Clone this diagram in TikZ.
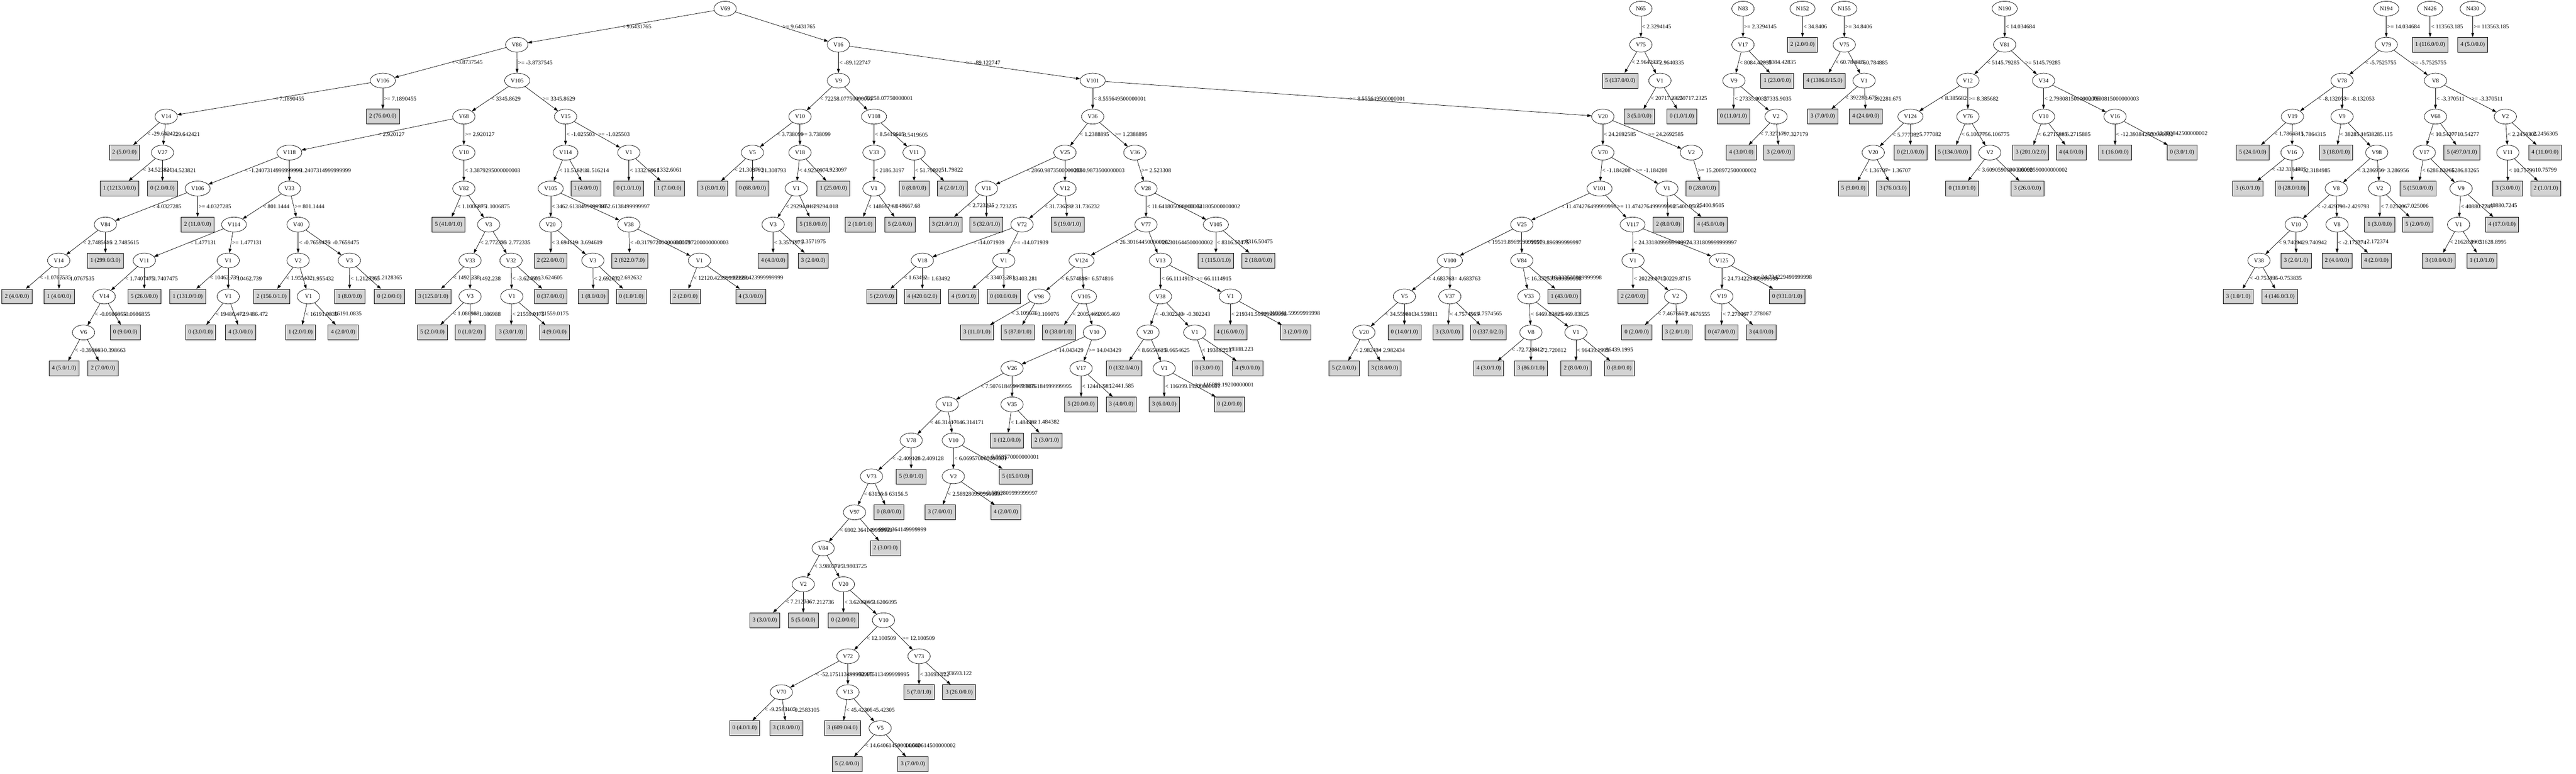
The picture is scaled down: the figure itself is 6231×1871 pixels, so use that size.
\documentclass[tikz,border=0pt]{standalone}
\usepackage{fontspec}
\setmainfont{Liberation Serif}
\usetikzlibrary{shapes.geometric,arrows.meta}
\definecolor{leafgray}{RGB}{211,211,211}
\begin{document}
\begin{tikzpicture}[x=1pt,y=-1pt,font=\fontsize{14pt}{17pt}\selectfont,
		split/.style={ellipse,draw,line width=0.9pt,minimum width=54pt,minimum height=36pt,inner xsep=6pt,inner ysep=0pt},
		leaf/.style={rectangle,draw,line width=0.9pt,fill=leafgray,minimum width=54pt,minimum height=36pt,inner xsep=7pt,inner ysep=0pt},
		edge/.style={line width=0.9pt,-{Triangle[length=10pt,width=7pt]}},
		lab/.style={midway,anchor=west,inner xsep=2pt,inner ysep=0pt}]
		\useasboundingbox (0,0) rectangle (6231,1871);
		\node[split] (v69) at (1754,21) {V69};
		\node[split] (v86) at (1250,108) {V86};
		\node[split] (v16) at (2028,108) {V16};
		\draw[edge] (v69) -- node[lab] {< 9.6431765} (v86);
		\draw[edge] (v69) -- node[lab] {>= 9.6431765} (v16);
		\node[split] (v106a) at (926,195) {V106};
		\node[split] (v105a) at (1251,195) {V105};
		\draw[edge] (v86) -- node[lab] {< -3.8737545} (v106a);
		\draw[edge] (v86) -- node[lab] {>= -3.8737545} (v105a);
		\node[split] (v14a) at (402,282) {V14};
		\node[leaf] (c1) at (926,282) {2 (76.0/0.0)};
		\draw[edge] (v106a) -- node[lab] {< 7.1890455} (v14a);
		\draw[edge] (v106a) -- node[lab] {>= 7.1890455} (c1);
		\node[leaf] (c2) at (301,369) {2 (5.0/0.0)};
		\node[split] (v27) at (393,369) {V27};
		\draw[edge] (v14a) -- node[lab] {< -29.642421} (c2);
		\draw[edge] (v14a) -- node[lab] {>= -29.642421} (v27);
		\node[leaf] (c3) at (289,456) {1 (1213.0/0.0)};
		\node[leaf] (c4) at (393,456) {0 (2.0/0.0)};
		\draw[edge] (v27) -- node[lab] {< 34.523821} (c3);
		\draw[edge] (v27) -- node[lab] {>= 34.523821} (c4);
		\node[split] (v68a) at (1122,282) {V68};
		\node[split] (v15) at (1368,282) {V15};
		\draw[edge] (v105a) -- node[lab] {< 3345.8629} (v68a);
		\draw[edge] (v105a) -- node[lab] {>= 3345.8629} (v15);
		\node[split] (v118) at (700,369) {V118};
		\node[split] (v10a) at (1122,369) {V10};
		\draw[edge] (v68a) -- node[lab] {< 2.920127} (v118);
		\draw[edge] (v68a) -- node[lab] {>= 2.920127} (v10a);
		\node[split] (v106b) at (478,456) {V106};
		\node[split] (v33a) at (700,456) {V33};
		\draw[edge] (v118) -- node[lab] {< -1.2407314999999999} (v106b);
		\draw[edge] (v118) -- node[lab] {>= -1.2407314999999999} (v33a);
		\node[split] (v84a) at (255,543) {V84};
		\node[leaf] (c5) at (478,543) {2 (11.0/0.0)};
		\draw[edge] (v106b) -- node[lab] {< 4.0327285} (v84a);
		\draw[edge] (v106b) -- node[lab] {>= 4.0327285} (c5);
		\node[split] (v14b) at (142,630) {V14};
		\node[leaf] (c6) at (255,630) {1 (299.0/3.0)};
		\draw[edge] (v84a) -- node[lab] {< 2.7485615} (v14b);
		\draw[edge] (v84a) -- node[lab] {>= 2.7485615} (c6);
		\node[leaf] (c7) at (41,717) {2 (4.0/0.0)};
		\node[leaf] (c8) at (143,717) {1 (4.0/0.0)};
		\draw[edge] (v14b) -- node[lab] {< -1.0767535} (c7);
		\draw[edge] (v14b) -- node[lab] {>= -1.0767535} (c8);
		\node[split] (v114a) at (566,543) {V114};
		\node[split] (v40) at (721,543) {V40};
		\draw[edge] (v33a) -- node[lab] {< 801.1444} (v114a);
		\draw[edge] (v33a) -- node[lab] {>= 801.1444} (v40);
		\node[split] (v11a) at (349,630) {V11};
		\node[split] (v1a) at (552,630) {V1};
		\draw[edge] (v114a) -- node[lab] {< 1.477131} (v11a);
		\draw[edge] (v114a) -- node[lab] {>= 1.477131} (v1a);
		\node[split] (v14c) at (252,717) {V14};
		\node[leaf] (c9) at (349,717) {5 (26.0/0.0)};
		\draw[edge] (v11a) -- node[lab] {< 1.7407475} (v14c);
		\draw[edge] (v11a) -- node[lab] {>= 1.7407475} (c9);
		\node[split] (v6) at (202,804) {V6};
		\node[leaf] (c10) at (303,804) {0 (9.0/0.0)};
		\draw[edge] (v14c) -- node[lab] {< -0.0986855} (v6);
		\draw[edge] (v14c) -- node[lab] {>= -0.0986855} (c10);
		\node[leaf] (c11) at (155,891) {4 (5.0/1.0)};
		\node[leaf] (c12) at (249,891) {2 (7.0/0.0)};
		\draw[edge] (v6) -- node[lab] {< -0.398663} (c11);
		\draw[edge] (v6) -- node[lab] {>= -0.398663} (c12);
		\node[leaf] (c13) at (454,717) {1 (131.0/0.0)};
		\node[split] (v1b) at (552,717) {V1};
		\draw[edge] (v1a) -- node[lab] {< 10462.739} (c13);
		\draw[edge] (v1a) -- node[lab] {>= 10462.739} (v1b);
		\node[leaf] (c14) at (485,804) {0 (3.0/0.0)};
		\node[leaf] (c15) at (582,804) {4 (3.0/0.0)};
		\draw[edge] (v1b) -- node[lab] {< 19486.472} (c14);
		\draw[edge] (v1b) -- node[lab] {>= 19486.472} (c15);
		\node[split] (v2a) at (721,630) {V2};
		\node[split] (v3a) at (845,630) {V3};
		\draw[edge] (v40) -- node[lab] {< -0.7659475} (v2a);
		\draw[edge] (v40) -- node[lab] {>= -0.7659475} (v3a);
		\node[leaf] (c16) at (657,717) {2 (156.0/1.0)};
		\node[split] (v1c) at (746,717) {V1};
		\draw[edge] (v2a) -- node[lab] {< 1.955432} (c16);
		\draw[edge] (v2a) -- node[lab] {>= 1.955432} (v1c);
		\node[leaf] (c17) at (727,804) {1 (2.0/0.0)};
		\node[leaf] (c18) at (830,804) {4 (2.0/0.0)};
		\draw[edge] (v1c) -- node[lab] {< 16191.0835} (c17);
		\draw[edge] (v1c) -- node[lab] {>= 16191.0835} (c18);
		\node[leaf] (c19) at (846,717) {1 (8.0/0.0)};
		\node[leaf] (c20) at (942,717) {0 (2.0/0.0)};
		\draw[edge] (v3a) -- node[lab] {< 1.2128365} (c19);
		\draw[edge] (v3a) -- node[lab] {>= 1.2128365} (c20);
		\node[split] (v82) at (1122,456) {V82};
		\draw[edge] (v10a) -- node[lab] {< 3.3879295000000003} (v82);
		\node[leaf] (c21) at (1085,543) {5 (41.0/1.0)};
		\node[split] (v3b) at (1182,543) {V3};
		\draw[edge] (v82) -- node[lab] {< 1.1006875} (c21);
		\draw[edge] (v82) -- node[lab] {>= 1.1006875} (v3b);
		\node[split] (v33b) at (1137,630) {V33};
		\node[split] (v32) at (1236,630) {V32};
		\draw[edge] (v3b) -- node[lab] {< 2.772335} (v33b);
		\draw[edge] (v3b) -- node[lab] {>= 2.772335} (v32);
		\node[leaf] (c22) at (1048,717) {3 (125.0/1.0)};
		\node[split] (v3c) at (1137,717) {V3};
		\draw[edge] (v33b) -- node[lab] {< 1492.238} (c22);
		\draw[edge] (v33b) -- node[lab] {>= 1492.238} (v3c);
		\node[leaf] (c23) at (1046,804) {5 (2.0/0.0)};
		\node[leaf] (c24) at (1137,804) {0 (1.0/2.0)};
		\draw[edge] (v3c) -- node[lab] {< 1.086988} (c23);
		\draw[edge] (v3c) -- node[lab] {>= 1.086988} (c24);
		\node[split] (v1d) at (1238,717) {V1};
		\node[leaf] (c25) at (1332,717) {0 (37.0/0.0)};
		\draw[edge] (v32) -- node[lab] {< -3.624605} (v1d);
		\draw[edge] (v32) -- node[lab] {>= -3.624605} (c25);
		\node[leaf] (c26) at (1236,804) {3 (3.0/1.0)};
		\node[leaf] (c27) at (1341,804) {4 (9.0/0.0)};
		\draw[edge] (v1d) -- node[lab] {< 21559.0175} (c26);
		\draw[edge] (v1d) -- node[lab] {>= 21559.0175} (c27);
		\node[split] (v114b) at (1368,369) {V114};
		\node[split] (v1e) at (1521,369) {V1};
		\draw[edge] (v15) -- node[lab] {< -1.025503} (v114b);
		\draw[edge] (v15) -- node[lab] {>= -1.025503} (v1e);
		\node[split] (v105b) at (1332,456) {V105};
		\node[leaf] (c28) at (1417,456) {1 (4.0/0.0)};
		\draw[edge] (v114b) -- node[lab] {< 11.516214} (v105b);
		\draw[edge] (v114b) -- node[lab] {>= 11.516214} (c28);
		\node[split] (v20a) at (1332,543) {V20};
		\node[split] (v38a) at (1521,543) {V38};
		\draw[edge] (v105b) -- node[lab] {< 3462.6138499999997} (v20a);
		\draw[edge] (v105b) -- node[lab] {>= 3462.6138499999997} (v38a);
		\node[leaf] (c29) at (1332,630) {2 (22.0/0.0)};
		\node[split] (v3d) at (1434,630) {V3};
		\draw[edge] (v20a) -- node[lab] {< 3.694619} (c29);
		\draw[edge] (v20a) -- node[lab] {>= 3.694619} (v3d);
		\node[leaf] (c30) at (1435,717) {1 (8.0/0.0)};
		\node[leaf] (c31) at (1527,717) {0 (1.0/1.0)};
		\draw[edge] (v3d) -- node[lab] {< 2.692632} (c30);
		\draw[edge] (v3d) -- node[lab] {>= 2.692632} (c31);
		\node[leaf] (c32) at (1523,630) {2 (822.0/7.0)};
		\node[split] (v1f) at (1692,630) {V1};
		\draw[edge] (v38a) -- node[lab] {< -0.31797200000000003} (c32);
		\draw[edge] (v38a) -- node[lab] {>= -0.31797200000000003} (v1f);
		\node[leaf] (c33) at (1658,717) {2 (2.0/0.0)};
		\node[leaf] (c34) at (1816,717) {4 (3.0/0.0)};
		\draw[edge] (v1f) -- node[lab] {< 12120.423999999999} (c33);
		\draw[edge] (v1f) -- node[lab] {>= 12120.423999999999} (c34);
		\node[leaf] (c35) at (1521,456) {0 (1.0/1.0)};
		\node[leaf] (c36) at (1619,456) {1 (7.0/0.0)};
		\draw[edge] (v1e) -- node[lab] {< 1332.6061} (c35);
		\draw[edge] (v1e) -- node[lab] {>= 1332.6061} (c36);
		\node[split] (v9a) at (2028,195) {V9};
		\node[split] (v101a) at (2643,195) {V101};
		\draw[edge] (v16) -- node[lab] {< -89.122747} (v9a);
		\draw[edge] (v16) -- node[lab] {>= -89.122747} (v101a);
		\node[split] (v10b) at (1935,282) {V10};
		\node[split] (v108) at (2114,282) {V108};
		\draw[edge] (v9a) -- node[lab] {< 72258.07750000001} (v10b);
		\draw[edge] (v9a) -- node[lab] {>= 72258.07750000001} (v108);
		\node[split] (v5a) at (1820,369) {V5};
		\node[split] (v18a) at (1935,369) {V18};
		\draw[edge] (v10b) -- node[lab] {< 3.738099} (v5a);
		\draw[edge] (v10b) -- node[lab] {>= 3.738099} (v18a);
		\node[leaf] (c37) at (1724,456) {3 (8.0/1.0)};
		\node[leaf] (c38) at (1820,456) {0 (68.0/0.0)};
		\draw[edge] (v5a) -- node[lab] {< 21.308793} (c37);
		\draw[edge] (v5a) -- node[lab] {>= 21.308793} (c38);
		\node[split] (v1g) at (1926,456) {V1};
		\node[leaf] (c39) at (2016,456) {1 (25.0/0.0)};
		\draw[edge] (v18a) -- node[lab] {< 4.923097} (v1g);
		\draw[edge] (v18a) -- node[lab] {>= 4.923097} (c39);
		\node[split] (v3e) at (1870,543) {V3};
		\node[leaf] (c40) at (1967,543) {5 (18.0/0.0)};
		\draw[edge] (v1g) -- node[lab] {< 29294.018} (v3e);
		\draw[edge] (v1g) -- node[lab] {>= 29294.018} (c40);
		\node[leaf] (c41) at (1870,630) {4 (4.0/0.0)};
		\node[leaf] (c42) at (1967,630) {3 (2.0/0.0)};
		\draw[edge] (v3e) -- node[lab] {< 3.3571975} (c41);
		\draw[edge] (v3e) -- node[lab] {>= 3.3571975} (c42);
		\node[split] (v33c) at (2114,369) {V33};
		\node[split] (v11b) at (2211,369) {V11};
		\draw[edge] (v108) -- node[lab] {< 8.5419605} (v33c);
		\draw[edge] (v108) -- node[lab] {>= 8.5419605} (v11b);
		\node[split] (v1h) at (2114,456) {V1};
		\draw[edge] (v33c) -- node[lab] {< 2186.3197} (v1h);
		\node[leaf] (c43) at (2081,543) {2 (1.0/1.0)};
		\node[leaf] (c44) at (2177,543) {5 (2.0/0.0)};
		\draw[edge] (v1h) -- node[lab] {< 148667.68} (c43);
		\draw[edge] (v1h) -- node[lab] {>= 148667.68} (c44);
		\node[leaf] (c45) at (2211,456) {0 (8.0/0.0)};
		\node[leaf] (c46) at (2303,456) {4 (2.0/1.0)};
		\draw[edge] (v11b) -- node[lab] {< 51.79822} (c45);
		\draw[edge] (v11b) -- node[lab] {>= 51.79822} (c46);
		\node[split] (v36a) at (2643,282) {V36};
		\node[split] (v20b) at (3877,282) {V20};
		\draw[edge] (v101a) -- node[lab] {< 8.555649500000001} (v36a);
		\draw[edge] (v101a) -- node[lab] {>= 8.555649500000001} (v20b);
		\node[split] (v25a) at (2576,369) {V25};
		\node[split] (v36b) at (2745,369) {V36};
		\draw[edge] (v36a) -- node[lab] {< 1.2388895} (v25a);
		\draw[edge] (v36a) -- node[lab] {>= 1.2388895} (v36b);
		\node[split] (v11c) at (2386,456) {V11};
		\node[split] (v12a) at (2576,456) {V12};
		\draw[edge] (v25a) -- node[lab] {< 2860.9873500000003} (v11c);
		\draw[edge] (v25a) -- node[lab] {>= 2860.9873500000003} (v12a);
		\node[leaf] (c47) at (2287,543) {3 (21.0/1.0)};
		\node[leaf] (c48) at (2386,543) {5 (32.0/1.0)};
		\draw[edge] (v11c) -- node[lab] {< 2.723235} (c47);
		\draw[edge] (v11c) -- node[lab] {>= 2.723235} (c48);
		\node[split] (v72a) at (2472,543) {V72};
		\node[leaf] (c49) at (2582,543) {5 (19.0/1.0)};
		\draw[edge] (v12a) -- node[lab] {< 31.736232} (v72a);
		\draw[edge] (v12a) -- node[lab] {>= 31.736232} (c49);
		\node[split] (v18b) at (2231,630) {V18};
		\node[split] (v1i) at (2428,630) {V1};
		\draw[edge] (v72a) -- node[lab] {< -14.071939} (v18b);
		\draw[edge] (v72a) -- node[lab] {>= -14.071939} (v1i);
		\node[leaf] (c50) at (2133,717) {5 (2.0/0.0)};
		\node[leaf] (c51) at (2231,717) {4 (420.0/2.0)};
		\draw[edge] (v18b) -- node[lab] {< 1.63492} (c50);
		\draw[edge] (v18b) -- node[lab] {>= 1.63492} (c51);
		\node[leaf] (c52) at (2331,717) {4 (9.0/1.0)};
		\node[leaf] (c53) at (2428,717) {0 (10.0/0.0)};
		\draw[edge] (v1i) -- node[lab] {< 33403.281} (c52);
		\draw[edge] (v1i) -- node[lab] {>= 33403.281} (c53);
		\node[split] (v28) at (2772,456) {V28};
		\draw[edge] (v36b) -- node[lab] {>= 2.523308} (v28);
		\node[split] (v77) at (2772,543) {V77};
		\node[split] (v105c) at (2941,543) {V105};
		\draw[edge] (v28) -- node[lab] {< 11.641805000000002} (v77);
		\draw[edge] (v28) -- node[lab] {>= 11.641805000000002} (v105c);
		\node[split] (v124a) at (2616,630) {V124};
		\node[split] (v13a) at (2807,630) {V13};
		\draw[edge] (v77) -- node[lab] {< 26.301644500000002} (v124a);
		\draw[edge] (v77) -- node[lab] {>= 26.301644500000002} (v13a);
		\node[split] (v98a) at (2513,717) {V98};
		\node[split] (v105d) at (2622,717) {V105};
		\draw[edge] (v124a) -- node[lab] {< 6.574816} (v98a);
		\draw[edge] (v124a) -- node[lab] {>= 6.574816} (v105d);
		\node[leaf] (c54) at (2363,804) {3 (11.0/1.0)};
		\node[leaf] (c55) at (2462,804) {5 (87.0/1.0)};
		\draw[edge] (v98a) -- node[lab] {< 3.109076} (c54);
		\draw[edge] (v98a) -- node[lab] {>= 3.109076} (c55);
		\node[leaf] (c56) at (2561,804) {0 (38.0/1.0)};
		\node[split] (v10c) at (2647,804) {V10};
		\draw[edge] (v105d) -- node[lab] {< 2005.469} (c56);
		\draw[edge] (v105d) -- node[lab] {>= 2005.469} (v10c);
		\node[split] (v26) at (2448,891) {V26};
		\node[split] (v17a) at (2615,891) {V17};
		\draw[edge] (v10c) -- node[lab] {< 14.043429} (v26);
		\draw[edge] (v10c) -- node[lab] {>= 14.043429} (v17a);
		\node[split] (v13b) at (2291,978) {V13};
		\node[split] (v35) at (2448,978) {V35};
		\draw[edge] (v26) -- node[lab] {< 7.5076184999999995} (v13b);
		\draw[edge] (v26) -- node[lab] {>= 7.5076184999999995} (v35);
		\node[split] (v78a) at (2204,1065) {V78};
		\node[split] (v10d) at (2306,1065) {V10};
		\draw[edge] (v13b) -- node[lab] {< 46.314171} (v78a);
		\draw[edge] (v13b) -- node[lab] {>= 46.314171} (v10d);
		\node[split] (v73a) at (2108,1152) {V73};
		\node[leaf] (c57) at (2204,1152) {5 (9.0/1.0)};
		\draw[edge] (v78a) -- node[lab] {< -2.409128} (v73a);
		\draw[edge] (v78a) -- node[lab] {>= -2.409128} (c57);
		\node[split] (v97) at (2067,1239) {V97};
		\node[leaf] (c58) at (2150,1239) {0 (8.0/0.0)};
		\draw[edge] (v73a) -- node[lab] {< 63156.5} (v97);
		\draw[edge] (v73a) -- node[lab] {>= 63156.5} (c58);
		\node[split] (v84b) at (1991,1326) {V84};
		\node[leaf] (c59) at (2142,1326) {2 (3.0/0.0)};
		\draw[edge] (v97) -- node[lab] {< 6902.364149999999} (v84b);
		\draw[edge] (v97) -- node[lab] {>= 6902.364149999999} (c59);
		\node[split] (v2b) at (1943,1413) {V2};
		\node[split] (v20c) at (2040,1413) {V20};
		\draw[edge] (v84b) -- node[lab] {< 3.9803725} (v2b);
		\draw[edge] (v84b) -- node[lab] {>= 3.9803725} (v20c);
		\node[leaf] (c60) at (1850,1500) {3 (3.0/0.0)};
		\node[leaf] (c61) at (1943,1500) {5 (5.0/0.0)};
		\draw[edge] (v2b) -- node[lab] {< 7.212736} (c60);
		\draw[edge] (v2b) -- node[lab] {>= 7.212736} (c61);
		\node[leaf] (c62) at (2040,1500) {0 (2.0/0.0)};
		\node[split] (v10e) at (2137,1500) {V10};
		\draw[edge] (v20c) -- node[lab] {< 3.6206095} (c62);
		\draw[edge] (v20c) -- node[lab] {>= 3.6206095} (v10e);
		\node[split] (v72b) at (2051,1587) {V72};
		\node[split] (v73b) at (2223,1587) {V73};
		\draw[edge] (v10e) -- node[lab] {< 12.100509} (v72b);
		\draw[edge] (v10e) -- node[lab] {>= 12.100509} (v73b);
		\node[split] (v70a) at (1890,1674) {V70};
		\node[split] (v13c) at (2051,1674) {V13};
		\draw[edge] (v72b) -- node[lab] {< -52.175113499999995} (v70a);
		\draw[edge] (v72b) -- node[lab] {>= -52.175113499999995} (v13c);
		\node[leaf] (c63) at (1801,1761) {0 (4.0/1.0)};
		\node[leaf] (c64) at (1902,1761) {3 (18.0/0.0)};
		\draw[edge] (v70a) -- node[lab] {< -9.2583105} (c63);
		\draw[edge] (v70a) -- node[lab] {>= -9.2583105} (c64);
		\node[leaf] (c65) at (2038,1761) {3 (609.0/4.0)};
		\node[split] (v5b) at (2129,1761) {V5};
		\draw[edge] (v13c) -- node[lab] {< 45.42305} (c65);
		\draw[edge] (v13c) -- node[lab] {>= 45.42305} (v5b);
		\node[leaf] (c66) at (2049,1848) {5 (2.0/0.0)};
		\node[leaf] (c67) at (2208,1848) {3 (7.0/0.0)};
		\draw[edge] (v5b) -- node[lab] {< 14.640614500000002} (c66);
		\draw[edge] (v5b) -- node[lab] {>= 14.640614500000002} (c67);
		\node[leaf] (c68) at (2223,1674) {5 (7.0/1.0)};
		\node[leaf] (c69) at (2320,1674) {3 (26.0/0.0)};
		\draw[edge] (v73b) -- node[lab] {< 33693.122} (c68);
		\draw[edge] (v73b) -- node[lab] {>= 33693.122} (c69);
		\node[split] (v2c) at (2306,1152) {V2};
		\node[leaf] (c70) at (2457,1152) {5 (15.0/0.0)};
		\draw[edge] (v10d) -- node[lab] {< 6.069570000000001} (v2c);
		\draw[edge] (v10d) -- node[lab] {>= 6.069570000000001} (c70);
		\node[leaf] (c71) at (2274,1239) {3 (7.0/0.0)};
		\node[leaf] (c72) at (2433,1239) {4 (2.0/0.0)};
		\draw[edge] (v2c) -- node[lab] {< 2.5892809999999997} (c71);
		\draw[edge] (v2c) -- node[lab] {>= 2.5892809999999997} (c72);
		\node[leaf] (c73) at (2436,1065) {1 (12.0/0.0)};
		\node[leaf] (c74) at (2532,1065) {2 (3.0/1.0)};
		\draw[edge] (v35) -- node[lab] {< 1.484382} (c73);
		\draw[edge] (v35) -- node[lab] {>= 1.484382} (c74);
		\node[leaf] (c75) at (2615,978) {5 (20.0/0.0)};
		\node[leaf] (c76) at (2712,978) {3 (4.0/0.0)};
		\draw[edge] (v17a) -- node[lab] {< 12441.585} (c75);
		\draw[edge] (v17a) -- node[lab] {>= 12441.585} (c76);
		\node[split] (v38b) at (2807,717) {V38};
		\node[split] (v1j) at (2976,717) {V1};
		\draw[edge] (v13a) -- node[lab] {< 66.1114915} (v38b);
		\draw[edge] (v13a) -- node[lab] {>= 66.1114915} (v1j);
		\node[split] (v20d) at (2777,804) {V20};
		\node[split] (v1k) at (2890,804) {V1};
		\draw[edge] (v38b) -- node[lab] {< -0.302243} (v20d);
		\draw[edge] (v38b) -- node[lab] {>= -0.302243} (v1k);
		\node[leaf] (c77) at (2719,891) {0 (132.0/4.0)};
		\node[split] (v1l) at (2816,891) {V1};
		\draw[edge] (v20d) -- node[lab] {< 8.6654625} (c77);
		\draw[edge] (v20d) -- node[lab] {>= 8.6654625} (v1l);
		\node[leaf] (c78) at (2816,978) {3 (6.0/0.0)};
		\node[leaf] (c79) at (2974,978) {0 (2.0/0.0)};
		\draw[edge] (v1l) -- node[lab] {< 116099.19200000001} (c78);
		\draw[edge] (v1l) -- node[lab] {>= 116099.19200000001} (c79);
		\node[leaf] (c80) at (2921,891) {0 (3.0/0.0)};
		\node[leaf] (c81) at (3018,891) {4 (9.0/0.0)};
		\draw[edge] (v1k) -- node[lab] {< 19388.223} (c80);
		\draw[edge] (v1k) -- node[lab] {>= 19388.223} (c81);
		\node[leaf] (c82) at (2976,804) {4 (16.0/0.0)};
		\node[leaf] (c83) at (3134,804) {3 (2.0/0.0)};
		\draw[edge] (v1j) -- node[lab] {< 219341.59999999998} (c82);
		\draw[edge] (v1j) -- node[lab] {>= 219341.59999999998} (c83);
		\node[leaf] (c84) at (2941,630) {1 (115.0/1.0)};
		\node[leaf] (c85) at (3044,630) {2 (18.0/0.0)};
		\draw[edge] (v105c) -- node[lab] {< 8316.50475} (c84);
		\draw[edge] (v105c) -- node[lab] {>= 8316.50475} (c85);
		\node[split] (v70b) at (3877,369) {V70};
		\node[split] (v2d) at (4091,369) {V2};
		\draw[edge] (v20b) -- node[lab] {< 24.2692585} (v70b);
		\draw[edge] (v20b) -- node[lab] {>= 24.2692585} (v2d);
		\node[split] (v101b) at (3869,456) {V101};
		\node[split] (v1m) at (4032,456) {V1};
		\draw[edge] (v70b) -- node[lab] {< -1.184208} (v101b);
		\draw[edge] (v70b) -- node[lab] {>= -1.184208} (v1m);
		\node[split] (v25b) at (3681,543) {V25};
		\node[split] (v117) at (3949,543) {V117};
		\draw[edge] (v101b) -- node[lab] {< 11.474276499999998} (v25b);
		\draw[edge] (v101b) -- node[lab] {>= 11.474276499999998} (v117);
		\node[split] (v100) at (3507,630) {V100};
		\node[split] (v84c) at (3681,630) {V84};
		\draw[edge] (v25b) -- node[lab] {< 19519.896999999997} (v100);
		\draw[edge] (v25b) -- node[lab] {>= 19519.896999999997} (v84c);
		\node[split] (v5c) at (3397,717) {V5};
		\node[split] (v37) at (3507,717) {V37};
		\draw[edge] (v100) -- node[lab] {< 4.683763} (v5c);
		\draw[edge] (v100) -- node[lab] {>= 4.683763} (v37);
		\node[split] (v20e) at (3299,804) {V20};
		\node[leaf] (c86) at (3397,804) {0 (14.0/1.0)};
		\draw[edge] (v5c) -- node[lab] {< 34.559811} (v20e);
		\draw[edge] (v5c) -- node[lab] {>= 34.559811} (c86);
		\node[leaf] (c87) at (3251,891) {5 (2.0/0.0)};
		\node[leaf] (c88) at (3349,891) {3 (18.0/0.0)};
		\draw[edge] (v20e) -- node[lab] {< 2.982434} (c87);
		\draw[edge] (v20e) -- node[lab] {>= 2.982434} (c88);
		\node[leaf] (c89) at (3502,804) {3 (3.0/0.0)};
		\node[leaf] (c90) at (3600,804) {0 (337.0/2.0)};
		\draw[edge] (v37) -- node[lab] {< 4.7574565} (c89);
		\draw[edge] (v37) -- node[lab] {>= 4.7574565} (c90);
		\node[split] (v33d) at (3698,717) {V33};
		\node[leaf] (c91) at (3784,717) {1 (43.0/0.0)};
		\draw[edge] (v84c) -- node[lab] {< 16.332535999999998} (v33d);
		\draw[edge] (v84c) -- node[lab] {>= 16.332535999999998} (c91);
		\node[split] (v8a) at (3703,804) {V8};
		\node[split] (v1n) at (3812,804) {V1};
		\draw[edge] (v33d) -- node[lab] {< 6469.83825} (v8a);
		\draw[edge] (v33d) -- node[lab] {>= 6469.83825} (v1n);
		\node[leaf] (c92) at (3601,891) {4 (3.0/1.0)};
		\node[leaf] (c93) at (3703,891) {3 (86.0/1.0)};
		\draw[edge] (v8a) -- node[lab] {< -72.720812} (c92);
		\draw[edge] (v8a) -- node[lab] {>= -72.720812} (c93);
		\node[leaf] (c94) at (3812,891) {2 (8.0/0.0)};
		\node[leaf] (c95) at (3917,891) {0 (8.0/0.0)};
		\draw[edge] (v1n) -- node[lab] {< 96439.1995} (c94);
		\draw[edge] (v1n) -- node[lab] {>= 96439.1995} (c95);
		\node[split] (v1o) at (3950,630) {V1};
		\node[split] (v125) at (4165,630) {V125};
		\draw[edge] (v117) -- node[lab] {< 24.331809999999997} (v1o);
		\draw[edge] (v117) -- node[lab] {>= 24.331809999999997} (v125);
		\node[leaf] (c96) at (3950,717) {2 (2.0/0.0)};
		\node[split] (v2e) at (4053,717) {V2};
		\draw[edge] (v1o) -- node[lab] {< 20229.8715} (c96);
		\draw[edge] (v1o) -- node[lab] {>= 20229.8715} (v2e);
		\node[leaf] (c97) at (3959,804) {0 (2.0/0.0)};
		\node[leaf] (c98) at (4057,804) {3 (2.0/1.0)};
		\draw[edge] (v2e) -- node[lab] {< 7.4676555} (c97);
		\draw[edge] (v2e) -- node[lab] {>= 7.4676555} (c98);
		\node[split] (v19a) at (4165,717) {V19};
		\node[leaf] (c99) at (4323,717) {0 (931.0/1.0)};
		\draw[edge] (v125) -- node[lab] {< 24.734229499999998} (v19a);
		\draw[edge] (v125) -- node[lab] {>= 24.734229499999998} (c99);
		\node[leaf] (c100) at (4164,804) {0 (47.0/0.0)};
		\node[leaf] (c101) at (4260,804) {3 (4.0/0.0)};
		\draw[edge] (v19a) -- node[lab] {< 7.278067} (c100);
		\draw[edge] (v19a) -- node[lab] {>= 7.278067} (c101);
		\node[leaf] (c102) at (4035,543) {2 (8.0/0.0)};
		\node[leaf] (c103) at (4138,543) {4 (45.0/0.0)};
		\draw[edge] (v1m) -- node[lab] {< 25400.9505} (c102);
		\draw[edge] (v1m) -- node[lab] {>= 25400.9505} (c103);
		\node[leaf] (c104) at (4118,456) {0 (28.0/0.0)};
		\draw[edge] (v2d) -- node[lab] {>= 15.208972500000002} (c104);
		\node[split] (n65) at (3969,21) {N65};
		\node[split] (v75a) at (3969,108) {V75};
		\draw[edge] (n65) -- node[lab] {< 2.3294145} (v75a);
		\node[leaf] (c105) at (3919,195) {5 (137.0/0.0)};
		\node[split] (v1p) at (4015,195) {V1};
		\draw[edge] (v75a) -- node[lab] {< 2.9640335} (c105);
		\draw[edge] (v75a) -- node[lab] {>= 2.9640335} (v1p);
		\node[leaf] (c106) at (3965,282) {3 (5.0/0.0)};
		\node[leaf] (c107) at (4068,282) {0 (1.0/1.0)};
		\draw[edge] (v1p) -- node[lab] {< 20717.2325} (c106);
		\draw[edge] (v1p) -- node[lab] {>= 20717.2325} (c107);
		\node[split] (n83) at (4216,21) {N83};
		\node[split] (v17b) at (4216,108) {V17};
		\draw[edge] (n83) -- node[lab] {>= 2.3294145} (v17b);
		\node[split] (v9b) at (4194,195) {V9};
		\node[leaf] (c108) at (4299,195) {1 (23.0/0.0)};
		\draw[edge] (v17b) -- node[lab] {< 8084.42835} (v9b);
		\draw[edge] (v17b) -- node[lab] {>= 8084.42835} (c108);
		\node[leaf] (c109) at (4193,282) {0 (11.0/1.0)};
		\node[split] (v2f) at (4296,282) {V2};
		\draw[edge] (v9b) -- node[lab] {< 27335.9035} (c109);
		\draw[edge] (v9b) -- node[lab] {>= 27335.9035} (v2f);
		\node[leaf] (c110) at (4212,369) {4 (3.0/0.0)};
		\node[leaf] (c111) at (4303,369) {3 (2.0/0.0)};
		\draw[edge] (v2f) -- node[lab] {< 7.327179} (c110);
		\draw[edge] (v2f) -- node[lab] {>= 7.327179} (c111);
		\node[split] (n152) at (4360,21) {N152};
		\node[leaf] (c112) at (4360,108) {2 (2.0/0.0)};
		\draw[edge] (n152) -- node[lab] {< 34.8406} (c112);
		\node[split] (n155) at (4461,21) {N155};
		\node[split] (v75b) at (4461,108) {V75};
		\draw[edge] (n155) -- node[lab] {>= 34.8406} (v75b);
		\node[leaf] (c113) at (4413,195) {4 (1386.0/15.0)};
		\node[split] (v1q) at (4509,195) {V1};
		\draw[edge] (v75b) -- node[lab] {< 60.784885} (c113);
		\draw[edge] (v75b) -- node[lab] {>= 60.784885} (v1q);
		\node[leaf] (c114) at (4409,282) {3 (7.0/0.0)};
		\node[leaf] (c115) at (4513,282) {4 (24.0/0.0)};
		\draw[edge] (v1q) -- node[lab] {< 392281.675} (c114);
		\draw[edge] (v1q) -- node[lab] {>= 392281.675} (c115);
		\node[split] (n190) at (4849,21) {N190};
		\node[split] (v81) at (4849,108) {V81};
		\draw[edge] (n190) -- node[lab] {< 14.034684} (v81);
		\node[split] (v12b) at (4760,195) {V12};
		\node[split] (v34) at (4943,195) {V34};
		\draw[edge] (v81) -- node[lab] {< 5145.79285} (v12b);
		\draw[edge] (v81) -- node[lab] {>= 5145.79285} (v34);
		\node[split] (v124b) at (4621,282) {V124};
		\node[split] (v76) at (4760,282) {V76};
		\draw[edge] (v12b) -- node[lab] {< 8.385682} (v124b);
		\draw[edge] (v12b) -- node[lab] {>= 8.385682} (v76);
		\node[split] (v20f) at (4531,369) {V20};
		\node[leaf] (c116) at (4621,369) {0 (21.0/0.0)};
		\draw[edge] (v124b) -- node[lab] {< 5.777082} (v20f);
		\draw[edge] (v124b) -- node[lab] {>= 5.777082} (c116);
		\node[leaf] (c117) at (4483,456) {5 (9.0/0.0)};
		\node[leaf] (c118) at (4579,456) {3 (76.0/3.0)};
		\draw[edge] (v20f) -- node[lab] {< 1.36707} (c117);
		\draw[edge] (v20f) -- node[lab] {>= 1.36707} (c118);
		\node[leaf] (c119) at (4724,369) {5 (134.0/0.0)};
		\node[split] (v2g) at (4813,369) {V2};
		\draw[edge] (v76) -- node[lab] {< 6.106775} (c119);
		\draw[edge] (v76) -- node[lab] {>= 6.106775} (v2g);
		\node[leaf] (c120) at (4746,456) {0 (11.0/1.0)};
		\node[leaf] (c121) at (4904,456) {3 (26.0/0.0)};
		\draw[edge] (v2g) -- node[lab] {< 3.6090590000000002} (c120);
		\draw[edge] (v2g) -- node[lab] {>= 3.6090590000000002} (c121);
		\node[split] (v10f) at (4943,282) {V10};
		\node[split] (v16b) at (5116,282) {V16};
		\draw[edge] (v34) -- node[lab] {< 2.7980815000000003} (v10f);
		\draw[edge] (v34) -- node[lab] {>= 2.7980815000000003} (v16b);
		\node[leaf] (c122) at (4912,369) {3 (201.0/2.0)};
		\node[leaf] (c123) at (5010,369) {4 (4.0/0.0)};
		\draw[edge] (v10f) -- node[lab] {< 6.2715885} (c122);
		\draw[edge] (v10f) -- node[lab] {>= 6.2715885} (c123);
		\node[leaf] (c124) at (5116,369) {1 (16.0/0.0)};
		\node[leaf] (c125) at (5278,369) {0 (3.0/1.0)};
		\draw[edge] (v16b) -- node[lab] {< -12.393842500000002} (c124);
		\draw[edge] (v16b) -- node[lab] {>= -12.393842500000002} (c125);
		\node[split] (n194) at (5772,21) {N194};
		\node[split] (v79) at (5772,108) {V79};
		\draw[edge] (n194) -- node[lab] {>= 14.034684} (v79);
		\node[split] (n426) at (5878,21) {N426};
		\node[leaf] (c126) at (5878,108) {1 (116.0/0.0)};
		\draw[edge] (n426) -- node[lab] {< 113563.185} (c126);
		\node[split] (n430) at (5981,21) {N430};
		\node[leaf] (c127) at (5981,108) {4 (5.0/0.0)};
		\draw[edge] (n430) -- node[lab] {>= 113563.185} (c127);
		\node[split] (v78b) at (5665,195) {V78};
		\node[split] (v8b) at (5891,195) {V8};
		\draw[edge] (v79) -- node[lab] {< -5.7525755} (v78b);
		\draw[edge] (v79) -- node[lab] {>= -5.7525755} (v8b);
		\node[split] (v19b) at (5545,282) {V19};
		\node[split] (v9c) at (5665,282) {V9};
		\draw[edge] (v78b) -- node[lab] {< -8.132053} (v19b);
		\draw[edge] (v78b) -- node[lab] {>= -8.132053} (v9c);
		\node[leaf] (c128) at (5449,369) {5 (24.0/0.0)};
		\node[split] (v16c) at (5544,369) {V16};
		\draw[edge] (v19b) -- node[lab] {< 1.7864315} (c128);
		\draw[edge] (v19b) -- node[lab] {>= 1.7864315} (v16c);
		\node[leaf] (c129) at (5437,456) {3 (6.0/1.0)};
		\node[leaf] (c130) at (5544,456) {0 (28.0/0.0)};
		\draw[edge] (v16c) -- node[lab] {< -32.3184985} (c129);
		\draw[edge] (v16c) -- node[lab] {>= -32.3184985} (c130);
		\node[leaf] (c131) at (5651,369) {3 (18.0/0.0)};
		\node[split] (v98b) at (5749,369) {V98};
		\draw[edge] (v9c) -- node[lab] {< 38285.115} (c131);
		\draw[edge] (v9c) -- node[lab] {>= 38285.115} (v98b);
		\node[split] (v8c) at (5651,456) {V8};
		\node[split] (v2h) at (5756,456) {V2};
		\draw[edge] (v98b) -- node[lab] {< 3.286956} (v8c);
		\draw[edge] (v98b) -- node[lab] {>= 3.286956} (v2h);
		\node[split] (v10g) at (5554,543) {V10};
		\node[split] (v8d) at (5653,543) {V8};
		\draw[edge] (v8c) -- node[lab] {< -2.429793} (v10g);
		\draw[edge] (v8c) -- node[lab] {>= -2.429793} (v8d);
		\node[split] (v38c) at (5464,630) {V38};
		\node[leaf] (c132) at (5554,630) {3 (2.0/1.0)};
		\draw[edge] (v10g) -- node[lab] {< 9.740942} (v38c);
		\draw[edge] (v10g) -- node[lab] {>= 9.740942} (c132);
		\node[leaf] (c133) at (5414,717) {3 (1.0/1.0)};
		\node[leaf] (c134) at (5514,717) {4 (146.0/3.0)};
		\draw[edge] (v38c) -- node[lab] {< -0.753835} (c133);
		\draw[edge] (v38c) -- node[lab] {>= -0.753835} (c134);
		\node[leaf] (c135) at (5653,630) {2 (4.0/0.0)};
		\node[leaf] (c136) at (5748,630) {4 (2.0/0.0)};
		\draw[edge] (v8d) -- node[lab] {< -2.172374} (c135);
		\draw[edge] (v8d) -- node[lab] {>= -2.172374} (c136);
		\node[leaf] (c137) at (5756,543) {1 (3.0/0.0)};
		\node[leaf] (c138) at (5848,543) {5 (2.0/0.0)};
		\draw[edge] (v2h) -- node[lab] {< 7.025006} (c137);
		\draw[edge] (v2h) -- node[lab] {>= 7.025006} (c138);
		\node[split] (v68b) at (5891,282) {V68};
		\node[split] (v2i) at (6060,282) {V2};
		\draw[edge] (v8b) -- node[lab] {< -3.370511} (v68b);
		\draw[edge] (v8b) -- node[lab] {>= -3.370511} (v2i);
		\node[split] (v17c) at (5864,369) {V17};
		\node[leaf] (c139) at (5955,369) {5 (497.0/1.0)};
		\draw[edge] (v68b) -- node[lab] {< 10.54277} (v17c);
		\draw[edge] (v68b) -- node[lab] {>= 10.54277} (c139);
		\node[leaf] (c140) at (5849,456) {5 (150.0/0.0)};
		\node[split] (v9d) at (5953,456) {V9};
		\draw[edge] (v17c) -- node[lab] {< 6286.83265} (c140);
		\draw[edge] (v17c) -- node[lab] {>= 6286.83265} (v9d);
		\node[split] (v1r) at (5947,543) {V1};
		\node[leaf] (c141) at (6052,543) {4 (17.0/0.0)};
		\draw[edge] (v9d) -- node[lab] {< 40880.7245} (v1r);
		\draw[edge] (v9d) -- node[lab] {>= 40880.7245} (c141);
		\node[leaf] (c142) at (5899,630) {3 (10.0/0.0)};
		\node[leaf] (c143) at (6003,630) {1 (1.0/1.0)};
		\draw[edge] (v1r) -- node[lab] {< 21628.8995} (c142);
		\draw[edge] (v1r) -- node[lab] {>= 21628.8995} (c143);
		\node[split] (v11d) at (6066,369) {V11};
		\node[leaf] (c144) at (6156,369) {4 (11.0/0.0)};
		\draw[edge] (v2i) -- node[lab] {< 2.2456305} (v11d);
		\draw[edge] (v2i) -- node[lab] {>= 2.2456305} (c144);
		\node[leaf] (c145) at (6066,456) {3 (3.0/0.0)};
		\node[leaf] (c146) at (6158,456) {2 (1.0/1.0)};
		\draw[edge] (v11d) -- node[lab] {< 10.75799} (c145);
		\draw[edge] (v11d) -- node[lab] {>= 10.75799} (c146);
	\end{tikzpicture}
\end{document}
